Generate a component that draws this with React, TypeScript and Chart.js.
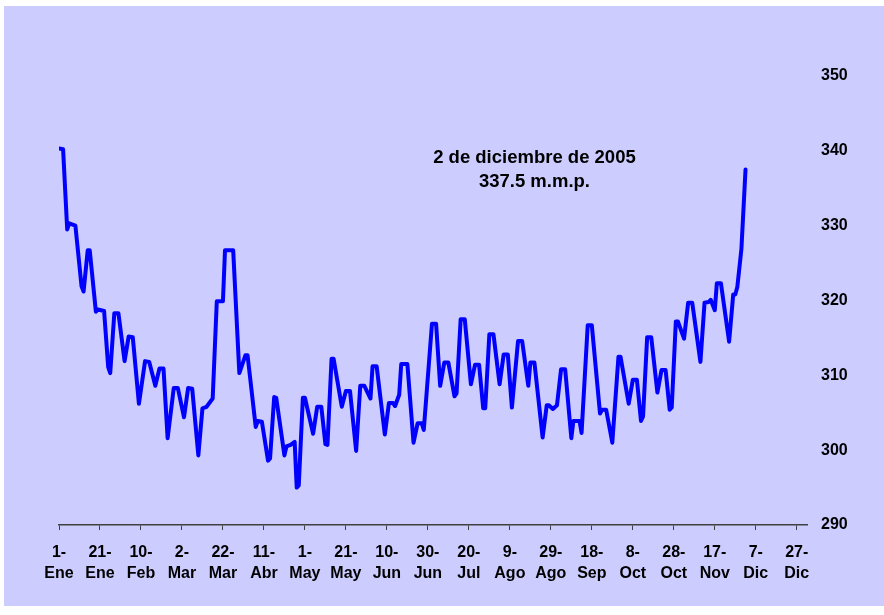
import React, { useEffect, useRef } from "react";
import { Chart, registerables } from "chart.js";

Chart.register(...registerables);

// Day of year (0 = 1 Jan 2005) of each vertex
const days: number[] = [
  0, 2, 4, 5, 8, 11, 12, 14, 15, 18, 19, 22, 24, 25, 27, 29, 32, 34, 36, 39,
  42, 44, 47, 49, 51, 53, 56, 58, 61, 63, 65, 68, 70, 72, 75, 77, 80, 81, 85, 88,
  91, 92, 96, 97, 99, 102, 103, 105, 106, 110, 111, 113, 115, 116, 117, 119, 120, 124, 126, 128,
  130, 131, 133, 134, 138, 140, 142, 145, 147, 149, 152, 153, 155, 159, 161, 163, 164, 166, 167, 170,
  173, 175, 177, 178, 182, 184, 186, 188, 190, 193, 194, 196, 198, 201, 203, 205, 207, 208, 210, 212,
  215, 217, 219, 221, 224, 226, 229, 230, 232, 236, 238, 239, 241, 243, 245, 247, 250, 251, 254, 255,
  258, 260, 264, 265, 267, 270, 273, 274, 278, 280, 282, 284, 285, 287, 289, 292, 294, 296, 298, 299,
  301, 302, 305, 307, 309, 313, 315, 317, 318, 320, 321, 323, 327, 329, 330, 331, 333, 335,
];

// Values (m.m.p.)
const values: number[] = [
  340.3, 340.2, 329.5, 330.3, 330.0, 321.9, 321.2, 326.7, 326.7, 318.5, 318.8, 318.6, 311.1, 310.3, 318.3, 318.3, 311.9, 315.2, 315.1, 306.2,
  311.9, 311.8, 308.6, 310.9, 310.9, 301.6, 308.3, 308.3, 304.4, 308.3, 308.2, 299.3, 305.6, 305.8, 306.9, 319.9, 319.9, 326.7, 326.7, 310.3,
  312.7, 312.7, 303.1, 303.9, 303.8, 298.6, 298.9, 307.1, 307.0, 299.3, 300.5, 300.7, 301.1, 295.0, 295.3, 307.0, 307.0, 302.2, 305.8, 305.8,
  300.8, 300.7, 312.2, 312.2, 305.8, 307.9, 307.9, 299.9, 308.6, 308.6, 306.9, 311.2, 311.2, 302.1, 306.3, 306.3, 305.9, 307.4, 311.5, 311.5,
  301.0, 303.6, 303.6, 302.7, 316.9, 316.9, 308.6, 311.7, 311.7, 307.2, 307.6, 317.5, 317.5, 308.8, 311.4, 311.4, 305.6, 305.6, 315.5, 315.5,
  308.8, 312.8, 312.8, 305.7, 314.6, 314.6, 308.6, 311.7, 311.7, 301.7, 306.0, 306.0, 305.5, 306.0, 310.8, 310.8, 301.6, 303.9, 303.9, 302.3,
  316.7, 316.7, 304.9, 305.4, 305.4, 301.0, 312.5, 312.5, 306.2, 309.4, 309.4, 303.9, 304.5, 315.1, 315.1, 307.7, 310.7, 310.7, 305.4, 305.7,
  317.2, 317.2, 314.9, 319.7, 319.7, 311.8, 319.7, 319.8, 320.1, 318.7, 322.3, 322.3, 314.5, 320.8, 320.8, 321.8, 326.9, 337.5,
];

const tickDays: number[] = [0, 20, 40, 60, 80, 100, 120, 140, 160, 180, 200, 220, 240, 260, 280, 300, 320, 340, 360];
const tickDayLabels: string[] = ["1-", "21-", "10-", "2-", "22-", "11-", "1-", "21-", "10-", "30-", "20-", "9-", "29-", "18-", "8-", "28-", "17-", "7-", "27-"];
const tickMonthLabels: string[] = ["Ene", "Ene", "Feb", "Mar", "Mar", "Abr", "May", "May", "Jun", "Jun", "Jul", "Ago", "Ago", "Sep", "Oct", "Oct", "Nov", "Dic", "Dic"];

const yTicks: number[] = [290, 300, 310, 320, 330, 340, 350];

const noteLines: string[] = ["2 de diciembre de 2005", "337.5 m.m.p."];
const noteX = 232;
const noteY: number[] = [339.0, 335.8];

const FONT = "'Liberation Sans', Arial, sans-serif";

export default function App() {
  const ref = useRef<HTMLCanvasElement | null>(null);

  useEffect(() => {
    if (!ref.current) return;
    const notePlugin = {
      id: "note",
      afterDatasetsDraw(chart: any) {
        const { ctx, scales } = chart;
        ctx.save();
        ctx.fillStyle = "#000";
        ctx.font = `bold 18.5px ${FONT}`;
        ctx.textAlign = "center";
        ctx.textBaseline = "middle";
        noteLines.forEach((t, i) => {
          ctx.fillText(t, scales.x.getPixelForValue(noteX), scales.y.getPixelForValue(noteY[i]));
        });
        ctx.restore();
      },
    };
    const chart = new Chart(ref.current, {
      type: "line",
      data: {
        datasets: [
          {
            data: days.map((d, i) => ({ x: d, y: values[i] })),
            borderColor: "#0000FF",
            borderWidth: 4,
            borderJoinStyle: "round",
            borderCapStyle: "round",
            pointRadius: 0,
            tension: 0,
            fill: false,
          },
        ],
      },
      options: {
        animation: false,
        responsive: false,
        maintainAspectRatio: false,
        layout: { padding: { left: 55, right: 0, top: 70, bottom: 0 } },
        plugins: { legend: { display: false }, tooltip: { enabled: false } },
        scales: {
          x: {
            type: "linear",
            min: 0,
            max: 365,
            afterBuildTicks: (scale: any) => {
              scale.ticks = tickDays.map((v) => ({ value: v }));
            },
            afterFit: (scale: any) => {
              scale.height = 81;
            },
            grid: {
              display: true,
              drawOnChartArea: false,
              drawTicks: true,
              tickLength: 5,
              color: "#404040",
              lineWidth: 1,
            },
            border: { display: true, color: "#404040", width: 1.5 },
            ticks: {
              autoSkip: false,
              maxRotation: 0,
              padding: 12,
              color: "#000",
              font: { family: FONT, size: 16, weight: "bold", lineHeight: 1.3 },
              callback: (v: any) => {
                const i = tickDays.indexOf(Number(v));
                return i >= 0 ? [tickDayLabels[i], tickMonthLabels[i]] : "";
              },
            },
          },
          y: {
            position: "right",
            min: 290,
            max: 350,
            afterBuildTicks: (scale: any) => {
              scale.ticks = yTicks.map((v) => ({ value: v }));
            },
            afterFit: (scale: any) => {
              scale.width = 77;
            },
            grid: { display: false, drawTicks: false },
            border: { display: false },
            ticks: {
              padding: 14,
              color: "#000",
              font: { family: FONT, size: 16, weight: "bold" },
            },
          },
        },
      },
      plugins: [notePlugin],
    });
    return () => chart.destroy();
  }, []);

  return (
    <div
      style={{
        position: "fixed",
        left: 4,
        top: 6,
        width: 880,
        height: 600,
        background: "#CCCCFF",
      }}
    >
      <canvas ref={ref} width={880} height={600} style={{ display: "block" }} />
    </div>
  );
}
